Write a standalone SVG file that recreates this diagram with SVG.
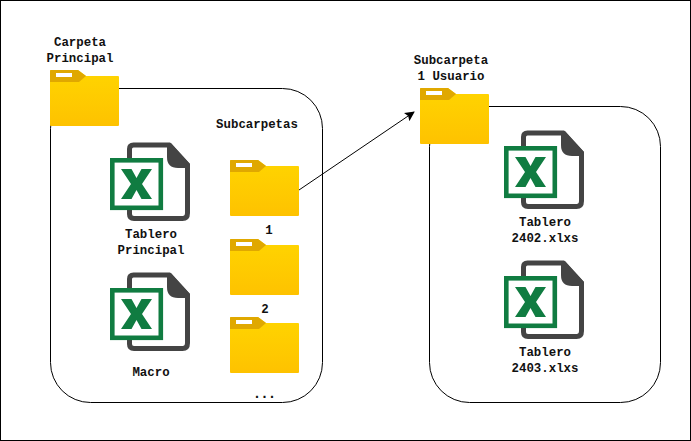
<svg xmlns="http://www.w3.org/2000/svg" width="691" height="441" viewBox="0 0 691 441">
<style>
text{font-family:"Liberation Mono","DejaVu Sans Mono",monospace;font-size:12.4px;font-weight:bold;fill:#111;text-anchor:middle}
.dots{font-family:"DejaVu Sans Mono","Liberation Mono",monospace}
.box{fill:#fff;stroke:#000;stroke-width:1}
</style>
<defs>
<linearGradient id="fg" x1="0" y1="0" x2="0" y2="1"><stop offset="0" stop-color="#ffd500"/><stop offset="1" stop-color="#fec200"/></linearGradient>
<marker id="arr" viewBox="0 0 10 10" refX="9" refY="5" markerWidth="10" markerHeight="10" markerUnits="userSpaceOnUse" orient="auto"><path d="M0 0L10 5L0 10L2 5Z" fill="#000"/></marker>
<symbol id="folder" width="69" height="56" viewBox="0 0 69 56" overflow="visible">
<path d="M1 0H28L36 6H68Q69 6 69 7V55Q69 56 68 56H1Q0 56 0 55V1Q0 0 1 0Z" fill="url(#fg)"/>
<path d="M1 0H28L36 6L29 12H0V1Q0 0 1 0Z" fill="#e0a800"/>
<rect x="6" y="3" width="16" height="4" fill="#fff"/>
</symbol>
<symbol id="xl" width="80" height="80" viewBox="0 0 80 80" overflow="visible">
<path d="M19.500 60V7Q19.500 3 23.500 3H59L77.500 23V71Q77.500 76.500 72.500 76.500H24Q19.500 76.500 19.500 72V66" fill="#fff" stroke="#444" stroke-width="5"/>
<path d="M57 1H61L80 22V26H68Q57 26 57 15Z" fill="#444"/>
<rect x="2.300" y="18.300" width="48.500" height="47.500" fill="#fff" stroke="#107c41" stroke-width="4.600"/>
<path d="M11 27H21.500L26.500 36L31.500 27H42L32 42L42 57H31.500L26.500 48L21.500 57H11L21 42Z" fill="#107c41"/>
</symbol>
</defs>
<rect x="0.5" y="0.5" width="690" height="440" fill="#fff" stroke="#000"/>
<g id="panel-main"><rect class="box" x="50.500" y="88.500" width="272" height="314" rx="40"/></g>
<g id="panel-user"><rect class="box" x="429.500" y="106.500" width="231" height="296" rx="40"/></g>
<g id="connectors"><line x1="299" y1="190" x2="414" y2="112" stroke="#000" stroke-width="1" marker-end="url(#arr)"/></g>
<g id="carpeta-principal"><use href="#folder" x="50" y="70"/><text x="80" y="46">Carpeta</text><text x="80" y="62">Principal</text></g>
<g id="subcarpetas-label"><text x="257" y="128">Subcarpetas</text></g>
<g id="folder-sub"><use href="#folder" x="230" y="160"/></g>
<g id="folder-1"><use href="#folder" x="230" y="239"/><text x="269" y="234">1</text></g>
<g id="folder-2"><use href="#folder" x="230" y="317"/><text x="265" y="313">2</text></g>
<g id="ellipsis"><text class="dots" x="264.500" y="398">...</text></g>
<g id="tablero-principal"><use href="#xl" x="110" y="142"/><text x="151" y="238">Tablero</text><text x="151" y="254">Principal</text></g>
<g id="macro"><use href="#xl" x="110" y="272"/><text x="151" y="376">Macro</text></g>
<g id="subcarpeta-usuario"><use href="#folder" x="420" y="88"/><text x="451" y="64">Subcarpeta</text><text x="451" y="80">1 Usuario</text></g>
<g id="tablero-2402"><use href="#xl" x="504" y="130"/><text x="545" y="226">Tablero</text><text x="545" y="242">2402.xlxs</text></g>
<g id="tablero-2403"><use href="#xl" x="504" y="260"/><text x="545" y="356">Tablero</text><text x="545" y="372">2403.xlxs</text></g>
</svg>
